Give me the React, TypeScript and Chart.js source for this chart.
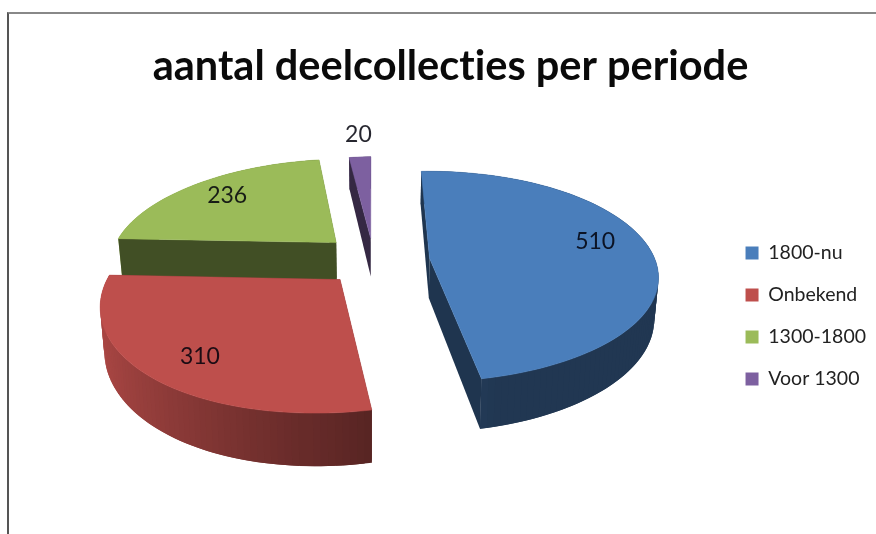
import React, { useEffect, useRef } from "react";
import { Chart, registerables } from "chart.js";

Chart.register(...registerables);

const titleText = "aantal deelcollecties per periode";
const categories = ["1800-nu", "Onbekend", "1300-1800", "Voor 1300"];
const values = [510, 310, 236, 20];
const sliceColors = ["#4a7ebb", "#be4f4c", "#9bbb59", "#7d60a0"];

// Pie seen in perspective: disc (u, v) of radius 1 is projected to the page.
const view = { cx: 376, cy: 261, fx: 226, fy: 103, k: 0.174, depth: 40, kz: 0.21, shrink: 0.985, skew: 6, skewFront: 7 };
const explode = 0.23;
const labelRadius = [0.8, 0.8, 0.8, 1.34];
const sliceNudge = [[2, 0], [0, 0], [-3, -3], [-2, 0]];
const labelShift = [[-10, -7], [7, 2], [5, 1], [1, 0]];

function project(u: number, v: number, low: boolean) {
  const w = 1 - view.k * v;
  const front = v > 0 ? v * v * v : 0;
  const x = (view.fx * u) / w - view.skew * v - view.skewFront * front;
  const y = (view.fy * v) / w;
  if (!low) return { x: view.cx + x, y: view.cy + y };
  return { x: view.cx + x * view.shrink, y: view.cy + y + view.depth / (1 - view.kz * v) };
}

function shade(hex: string, f: number) {
  const n = parseInt(hex.slice(1), 16);
  const c = [(n >> 16) & 255, (n >> 8) & 255, n & 255].map((a) => Math.round(a * f));
  return `rgb(${c[0]},${c[1]},${c[2]})`;
}

const pie3d = {
  id: "pie3d",
  beforeDraw(chart: any) {
    chart.ctx.textRendering = "optimizeSpeed";
  },
  afterLayout(chart: any) {
    const l = chart.legend;
    if (!l) return;
    l.top += 28;
    l.bottom += 28;
    l.left += 6;
    l.right += 6;
  },
  beforeDatasetsDraw(chart: any) {
    const ctx: CanvasRenderingContext2D = chart.ctx;
    const meta = chart.getDatasetMeta(0);
    const slices = meta.data.map((arc: any, i: number) => {
      const mid = (arc.startAngle + arc.endAngle) / 2;
      const ou = Math.cos(mid) * explode;
      const ov = Math.sin(mid) * explode;
      const steps = Math.max(2, Math.ceil(((arc.endAngle - arc.startAngle) * 180) / Math.PI / 1.5));
      const rim: { u: number; v: number; a: number }[] = [];
      for (let s = 0; s <= steps; s++) {
        const a = arc.startAngle + ((arc.endAngle - arc.startAngle) * s) / steps;
        rim.push({ u: ou + Math.cos(a), v: ov + Math.sin(a), a });
      }
      return { i, mid, ou, ov, rim, color: arc.options.backgroundColor as string };
    });
    slices.sort((p: any, q: any) => p.ov - q.ov);

    const quad = (p: any, q: any, fill: string) => {
      const a = project(p.u, p.v, false);
      const b = project(q.u, q.v, false);
      const c = project(q.u, q.v, true);
      const d = project(p.u, p.v, true);
      ctx.beginPath();
      ctx.moveTo(a.x, a.y);
      ctx.lineTo(b.x, b.y);
      ctx.lineTo(c.x, c.y);
      ctx.lineTo(d.x, d.y);
      ctx.closePath();
      ctx.fillStyle = fill;
      ctx.fill();
    };

    ctx.save();
    for (const s of slices) {
      const [nx, ny] = sliceNudge[s.i];
      ctx.save();
      ctx.translate(nx, ny);
      const apex = { u: s.ou, v: s.ov };
      const wall = shade(s.color, 0.42);
      const last = s.rim.length - 1;
      const walls: { p: any; q: any; fill: string; z: number }[] = [
        { p: apex, q: s.rim[0], fill: wall, z: (apex.v + s.rim[0].v) / 2 },
        { p: s.rim[last], q: apex, fill: wall, z: (apex.v + s.rim[last].v) / 2 },
      ];
      for (let j = 0; j < last; j++) {
        const a = s.rim[j];
        const q = s.rim[Math.min(last, j + 2)];
        // rim faces: lit from the left, dark on the right
        const f = Math.max(0.44, 0.54 - 0.38 * Math.cos(a.a));
        walls.push({ p: a, q, fill: shade(s.color, f), z: a.v });
      }
      walls.sort((a, b) => a.z - b.z);
      for (const w of walls) quad(w.p, w.q, w.fill);

      const o = project(apex.u, apex.v, false);
      ctx.beginPath();
      ctx.moveTo(o.x, o.y);
      for (const r of s.rim) {
        const p = project(r.u, r.v, false);
        ctx.lineTo(p.x, p.y);
      }
      ctx.closePath();
      ctx.fillStyle = s.color;
      ctx.strokeStyle = s.color;
      ctx.lineWidth = 0.5;
      ctx.fill();
      ctx.stroke();
      ctx.restore();
    }

    ctx.font = "23px Lato";
    ctx.textAlign = "center";
    ctx.textBaseline = "middle";
    ctx.fillStyle = "rgba(0,0,10,0.85)";
    for (const s of slices) {
      const r = labelRadius[s.i];
      const p = project(s.ou + Math.cos(s.mid) * r, s.ov + Math.sin(s.mid) * r, false);
      ctx.fillText(
        String(values[s.i]),
        p.x + sliceNudge[s.i][0] + labelShift[s.i][0],
        p.y + sliceNudge[s.i][1] + labelShift[s.i][1]
      );
    }
    ctx.restore();
    return false;
  },
};

export default function App() {
  const ref = useRef<HTMLCanvasElement | null>(null);
  useEffect(() => {
    document.body.style.margin = "0";
    const chart = new Chart(ref.current as HTMLCanvasElement, {
      type: "pie",
      data: {
        labels: categories,
        datasets: [{ data: values, backgroundColor: sliceColors, borderWidth: 0 }],
      },
      options: {
        animation: false,
        responsive: false,
        rotation: -2,
        layout: { padding: { left: 31, right: 6, top: 42, bottom: 0 } },
        plugins: {
          tooltip: { enabled: false },
          title: {
            display: true,
            text: titleText,
            color: "#0a0a0a",
            font: { family: "Lato", size: 41.5, weight: "bold" },
            padding: { top: 0, bottom: 10 },
          },
          legend: {
            position: "right",
            labels: {
              color: "#222222",
              font: { family: "Lato", size: 19.5 },
              boxWidth: 13,
              boxHeight: 13,
              padding: 22.5,
            },
          },
        },
      },
      plugins: [pie3d],
    } as any);
    return () => chart.destroy();
  }, []);
  return (
    <div style={{ position: "relative", width: 876, height: 534, overflow: "hidden", background: "#fff" }}>
      <canvas ref={ref} width={876} height={534} style={{ display: "block" }} />
      <div
        style={{
          position: "absolute",
          left: 7,
          top: 12,
          right: 0,
          bottom: 0,
          borderLeft: "2px solid #555",
          borderTop: "2px solid #888",
          pointerEvents: "none",
        }}
      />
    </div>
  );
}
